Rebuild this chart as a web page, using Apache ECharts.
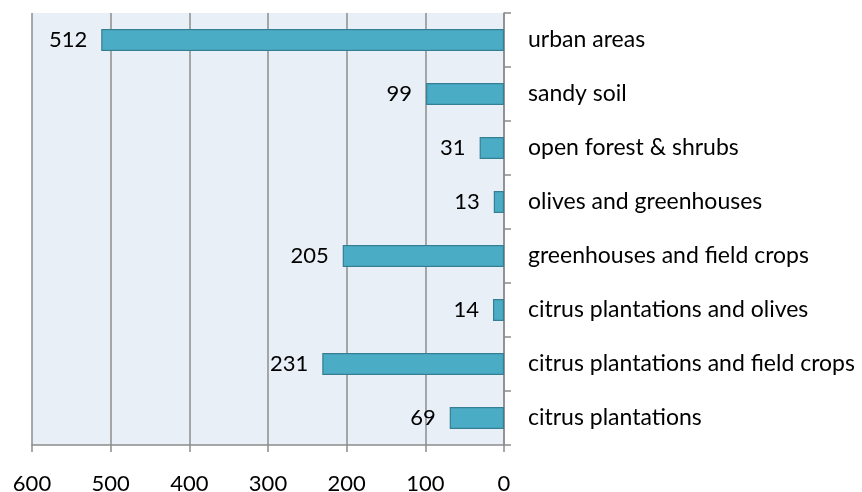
<!DOCTYPE html>
<html>
<head>
<meta charset="utf-8">
<script src="https://cdn.jsdelivr.net/npm/echarts@6/dist/echarts.min.js"></script>
<style>
  html, body { margin: 0; padding: 0; background: #ffffff; }
  #chart { width: 862px; height: 492px; }
</style>
</head>
<body>
<div id="chart"></div>
<script>
// Land-cover classes, listed top to bottom
const categories = [
  'urban areas',
  'sandy soil',
  'open forest & shrubs',
  'olives and greenhouses',
  'greenhouses and field crops',
  'citrus plantations and olives',
  'citrus plantations and field crops',
  'citrus plantations'
];
const values = [512, 99, 31, 13, 205, 14, 231, 69];
const axisMin = 0;
const axisMax = 600;
const axisStep = 100;

const FONT = 'Lato';
const GRID_GRAY = '#8c8c8c';

const chart = echarts.init(document.getElementById('chart'), null, { renderer: 'canvas' });
chart.setOption({
  animation: false,
  backgroundColor: '#ffffff',
  grid: {
    left: 32, right: 358, top: 13, bottom: 47,
    outerBoundsMode: 'none',
    containLabel: false,
    show: true, backgroundColor: '#e8eff6', borderWidth: 0
  },
  xAxis: {
    type: 'value',
    inverse: true,
    min: axisMin, max: axisMax, interval: axisStep,
    axisLine: { show: true, lineStyle: { color: GRID_GRAY, width: 1.5 } },
    axisTick: { show: true, length: 7, lineStyle: { color: GRID_GRAY, width: 1.5 } },
    splitLine: { show: true, lineStyle: { color: GRID_GRAY, width: 1.5 } },
    axisLabel: { color: '#000', fontFamily: FONT, fontSize: 22, margin: 28 }
  },
  yAxis: {
    type: 'category',
    position: 'right',
    inverse: true,
    data: categories,
    axisLine: { show: true, lineStyle: { color: GRID_GRAY, width: 1.5 } },
    axisTick: { show: true, length: 7, alignWithLabel: false, lineStyle: { color: GRID_GRAY, width: 1.5 } },
    axisLabel: { color: '#000', fontFamily: FONT, fontSize: 23, margin: 24, align: 'left' },
    splitLine: { show: false }
  },
  series: [{
    type: 'bar',
    data: values,
    barWidth: 22,
    itemStyle: { color: '#4bacc6', borderColor: '#357e93', borderWidth: 1.2 },
    label: {
      show: true,
      position: 'left',
      distance: 14,
      color: '#000',
      fontFamily: FONT,
      fontSize: 22
    }
  }]
});
</script>
</body>
</html>
